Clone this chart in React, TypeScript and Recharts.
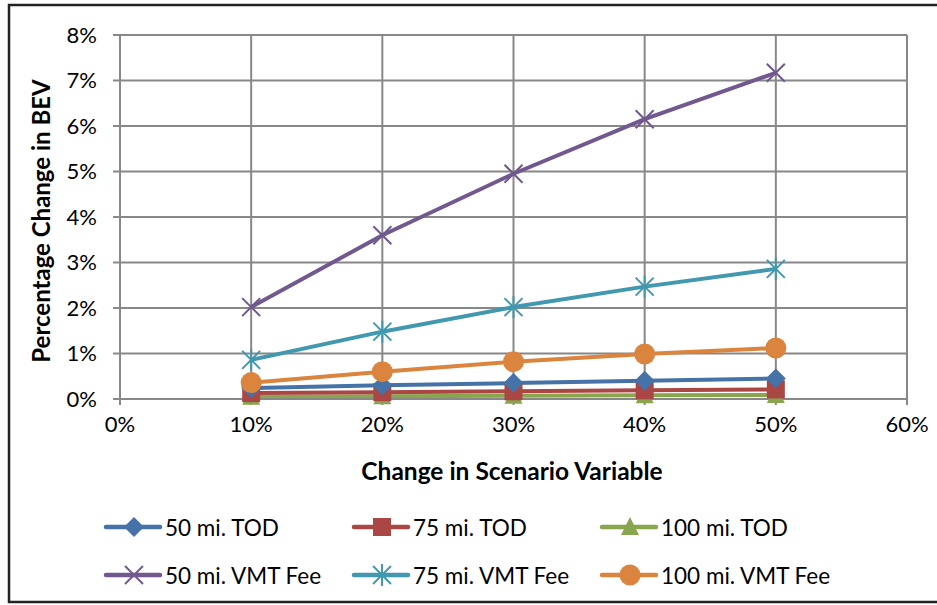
import React from 'react';
import { LineChart, Line, XAxis, YAxis, CartesianGrid } from 'recharts';

const scenarioSteps = [0.1, 0.2, 0.3, 0.4, 0.5];
const tod50 = [0.24, 0.3, 0.35, 0.4, 0.45];
const tod75 = [0.13, 0.15, 0.17, 0.19, 0.21];
const tod100 = [0.05, 0.06, 0.07, 0.08, 0.09];
const vmt50 = [2.02, 3.6, 4.95, 6.15, 7.17];
const vmt75 = [0.86, 1.48, 2.02, 2.47, 2.86];
const vmt100 = [0.36, 0.6, 0.82, 0.99, 1.12];
const xTicks = [0, 0.1, 0.2, 0.3, 0.4, 0.5, 0.6];
const yTicks = [0, 1, 2, 3, 4, 5, 6, 7, 8];

const data = scenarioSteps.map((x, i) => ({
  x,
  tod50: tod50[i],
  tod75: tod75[i],
  tod100: tod100[i],
  vmt50: vmt50[i],
  vmt75: vmt75[i],
  vmt100: vmt100[i],
}));

type Shape = 'diamond' | 'square' | 'triangle' | 'x' | 'star' | 'circle';

function Marker({ shape, cx, cy, color }: { shape: Shape; cx: number; cy: number; color: string }) {
  if (cx == null || cy == null) return null;
  switch (shape) {
    case 'diamond':
      return <polygon points={`${cx},${cy - 10} ${cx + 10},${cy} ${cx},${cy + 10} ${cx - 10},${cy}`} fill={color} />;
    case 'square':
      return <rect x={cx - 9} y={cy - 9} width={18} height={18} fill={color} />;
    case 'triangle':
      return <polygon points={`${cx},${cy - 10} ${cx + 9},${cy + 8} ${cx - 9},${cy + 8}`} fill={color} />;
    case 'x':
      return (
        <g stroke={color} strokeWidth={2}>
          <line x1={cx - 9} y1={cy - 9} x2={cx + 9} y2={cy + 9} />
          <line x1={cx - 9} y1={cy + 9} x2={cx + 9} y2={cy - 9} />
        </g>
      );
    case 'star':
      return (
        <g stroke={color} strokeWidth={2}>
          <line x1={cx - 9} y1={cy - 9} x2={cx + 9} y2={cy + 9} />
          <line x1={cx - 9} y1={cy + 9} x2={cx + 9} y2={cy - 9} />
          <line x1={cx} y1={cy - 11} x2={cx} y2={cy + 11} />
        </g>
      );
    default:
      return <circle cx={cx} cy={cy} r={10.5} fill={color} />;
  }
}

const series: { key: string; name: string; color: string; shape: Shape }[] = [
  { key: 'vmt50', name: '50 mi. VMT Fee', color: '#71588F', shape: 'x' },
  { key: 'vmt75', name: '75 mi. VMT Fee', color: '#4198AF', shape: 'star' },
  { key: 'vmt100', name: '100 mi. VMT Fee', color: '#DB843D', shape: 'circle' },
  { key: 'tod50', name: '50 mi. TOD', color: '#4572A7', shape: 'diamond' },
  { key: 'tod75', name: '75 mi. TOD', color: '#AA4643', shape: 'square' },
  { key: 'tod100', name: '100 mi. TOD', color: '#89A54E', shape: 'triangle' },
];

const legendOrder = ['tod50', 'tod75', 'tod100', 'vmt50', 'vmt75', 'vmt100'];
const legendCols = [103, 351, 599];
const legendRows = [527, 575];

const font = 'Lato, "Open Sans", sans-serif';

export default function App() {
  const drawOrder = ['tod100', 'tod75', 'tod50', 'vmt100', 'vmt75', 'vmt50'];
  return (
    <div style={{ position: 'absolute', left: 0, top: 0, width: 937, height: 605, fontFamily: font, background: '#fff', overflow: 'hidden' }}>
      <div style={{ position: 'absolute', left: 0, top: 0 }}>
        <LineChart width={937} height={605} data={data} margin={{ top: 35, right: 30, bottom: 146, left: 0 }}>
          <CartesianGrid stroke="#888" strokeWidth={2} />
          <XAxis
            dataKey="x"
            type="number"
            domain={[0, 0.6]}
            ticks={xTicks}
            tickFormatter={(v: number) => `${Math.round(v * 100)}%`}
            stroke="#888"
            strokeWidth={2}
            tickSize={6}
            tickMargin={11}
            tick={{ fill: '#000', fontSize: 22, fontFamily: font }}
            height={60}
          />
          <YAxis
            type="number"
            domain={[0, 8]}
            ticks={yTicks}
            tickFormatter={(v: number) => `${v}%`}
            stroke="#888"
            strokeWidth={2}
            tickSize={7}
            tickMargin={16}
            tick={{ fill: '#000', fontSize: 22, fontFamily: font }}
            width={120}
          />
          {drawOrder.map((k) => {
            const s = series.find((d) => d.key === k)!;
            return (
              <Line
                key={s.key}
                dataKey={s.key}
                name={s.name}
                stroke={s.color}
                strokeWidth={4}
                isAnimationActive={false}
                dot={(p: any) => <Marker key={`${s.key}-${p.index}`} shape={s.shape} cx={p.cx} cy={p.cy} color={s.color} />}
              />
            );
          })}
        </LineChart>
      </div>
      <svg width={937} height={605} style={{ position: 'absolute', left: 0, top: 0, pointerEvents: 'none' }}>
        <polyline points="940,5 9,5 9,602 940,602" fill="none" stroke="#222" strokeWidth={2.5} />
      </svg>
      <div style={{ position: 'absolute', left: 0, width: 1024, top: 456, textAlign: 'center', fontWeight: 'bold', fontSize: 24.5 }}>
        Change in Scenario Variable
      </div>
      <div
        style={{
          position: 'absolute',
          left: 40,
          top: 221,
          transform: 'translate(-50%, -50%) rotate(-90deg)',
          whiteSpace: 'nowrap',
          fontWeight: 'bold',
          fontSize: 24,
        }}
      >
        Percentage Change in BEV
      </div>
      {legendOrder.map((k, i) => {
        const s = series.find((d) => d.key === k)!;
        const left = legendCols[i % 3];
        const cy = legendRows[Math.floor(i / 3)];
        return (
          <div key={k} style={{ position: 'absolute', left, top: cy - 15, height: 30, display: 'flex', alignItems: 'center' }}>
            <svg width={62} height={30}>
              <line x1={3} y1={15} x2={57} y2={15} stroke={s.color} strokeWidth={4.5} strokeLinecap="round" />
              <Marker shape={s.shape} cx={31} cy={15} color={s.color} />
            </svg>
            <span style={{ fontSize: 22.5, whiteSpace: 'nowrap' }}>{s.name}</span>
          </div>
        );
      })}
    </div>
  );
}
